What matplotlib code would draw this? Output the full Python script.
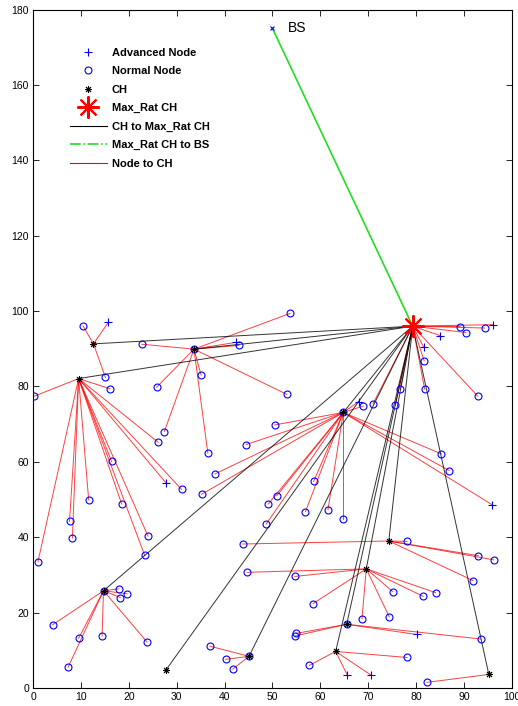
import matplotlib
matplotlib.use("Agg")
import matplotlib.pyplot as plt
from matplotlib.lines import Line2D

plt.rcParams['font.family'] = ['Liberation Sans', 'DejaVu Sans']

# base station and the max-ratio cluster head
bs_x, bs_y = 50.0, 175.0
max_x, max_y = 79.3, 96.0

# ordinary cluster heads
ch_x = [12.6, 9.5, 33.6, 64.8, 14.7, 27.7, 45.1, 69.6, 65.5, 63.2, 74.3, 95.2]
ch_y = [91.3, 82.1, 89.9, 73.1, 25.8, 4.7, 8.4, 31.6, 16.9, 9.7, 39.0, 3.6]
# which cluster heads were elected from normal nodes
ch_normal = [False, False, True, True, True, False, True, False, True, False, False, False]

# normal nodes and the cluster head each one joined (-1 = max-ratio CH)
norm_x = [89.2, 90.4, 94.3, 81.7, 92.9, 81.8, 76.7, 75.7, 71.0,
          10.4, 15.1,
          16.0, 0.2, 26.1, 16.4, 31.0, 11.6, 18.5, 7.6, 8.2, 24.0, 23.3, 1.0,
          22.7, 25.8, 27.4, 35.1, 36.5, 53.7, 43.0, 53.0,
          50.5, 44.5, 38.0, 35.2, 69.0, 58.6, 50.9, 49.1, 48.7, 56.9, 61.6, 64.8, 85.3, 86.9,
          17.9, 19.6, 18.2, 4.1, 9.5, 14.4, 23.8, 7.3,
          36.9, 40.2, 41.7,
          44.7, 54.7, 58.5, 68.7, 75.1, 81.5, 84.1, 74.4,
          55.0, 54.7, 93.5,
          57.7, 78.1,
          43.8, 78.1, 93.0, 96.2, 91.9,
          82.3]
norm_y = [95.9, 94.3, 95.5, 86.8, 77.4, 79.3, 79.3, 75.1, 75.4,
          96.1, 82.4,
          79.4, 77.4, 65.2, 60.1, 52.7, 49.9, 48.8, 44.2, 39.8, 40.3, 35.2, 33.5,
          91.2, 79.8, 68.0, 83.0, 62.3, 99.4, 90.9, 77.9,
          69.8, 64.6, 56.8, 51.4, 74.8, 54.8, 51.0, 48.8, 43.5, 46.8, 47.3, 44.9, 62.1, 57.7,
          26.3, 25.0, 24.0, 16.8, 13.2, 13.8, 12.2, 5.5,
          11.1, 7.6, 5.0,
          30.7, 29.6, 22.4, 18.3, 25.6, 24.3, 25.3, 18.9,
          14.5, 13.8, 13.0,
          6.0, 8.1,
          38.2, 38.9, 35.1, 34.0, 28.5,
          1.5]
norm_ch = [-1] * 9 + [0] * 2 + [1] * 12 + [2] * 8 + [3] * 14 + [4] * 8 + \
          [6] * 3 + [7] * 8 + [8] * 3 + [9] * 2 + [10] * 5 + [11]

# advanced nodes
adv_x = [96.1, 85.0, 81.6, 15.7, 27.7, 42.3, 68.0, 95.9, 80.1, 65.6, 70.6]
adv_y = [96.4, 93.5, 90.4, 97.0, 54.5, 91.7, 76.0, 48.6, 14.2, 3.5, 3.4]
adv_ch = [-1, -1, -1, 0, 1, 2, 3, 3, 8, 9, 9]

asterisk = (8, 2, 0)

fig = plt.figure(figsize=(5.18, 7.06), dpi=100)
ax = fig.add_axes([0.064, 0.0255, 0.924, 0.961])


def head_of(i):
    if i < 0:
        return max_x, max_y
    return ch_x[i], ch_y[i]


# node to CH links
for xs, ys, heads in ((norm_x, norm_y, norm_ch), (adv_x, adv_y, adv_ch)):
    for x, y, h in zip(xs, ys, heads):
        hx, hy = head_of(h)
        ax.plot([x, hx], [y, hy], color='red', lw=0.7, alpha=0.75, zorder=2)

# CH to max-ratio CH links
for x, y in zip(ch_x, ch_y):
    ax.plot([x, max_x], [y, max_y], color='black', lw=0.7, alpha=0.8, zorder=2)

# max-ratio CH to base station
ax.plot([max_x, bs_x], [max_y, bs_y], color='#22dd22', lw=1.2, zorder=2)

ax.plot(norm_x, norm_y, 'o', ms=5, mfc='none', mec='blue', mew=0.8, zorder=3)
ax.plot([x for x, n in zip(ch_x, ch_normal) if n],
        [y for y, n in zip(ch_y, ch_normal) if n],
        'o', ms=5, mfc='none', mec='blue', mew=0.8, zorder=3)
ax.plot(adv_x, adv_y, '+', ms=6, color='blue', mew=0.8, zorder=3)
ax.plot(ch_x, ch_y, ls='none', marker=asterisk, ms=5, color='black', mew=0.7, zorder=4)
ax.plot([max_x], [max_y], ls='none', marker=asterisk, ms=16, color='red', mew=1.5, zorder=4)

ax.plot([bs_x], [bs_y], 'x', ms=3.5, color='blue', mew=0.8, zorder=4)
ax.text(bs_x + 3.2, bs_y, 'BS', fontsize=10, va='center', ha='left')

handles = [
    Line2D([], [], ls='none', marker='+', ms=6, color='blue', mew=0.8),
    Line2D([], [], ls='none', marker='o', ms=5, mfc='none', mec='blue', mew=0.8),
    Line2D([], [], ls='none', marker=asterisk, ms=5, color='black', mew=0.7),
    Line2D([], [], ls='none', marker=asterisk, ms=16, color='red', mew=1.5),
    Line2D([], [], color='black', lw=0.8),
    Line2D([], [], color='#22dd22', lw=1.2, ls='-.'),
    Line2D([], [], color='red', lw=0.8),
]
labels = ['Advanced Node', 'Normal Node', 'CH', 'Max_Rat CH',
          'CH to Max_Rat CH', 'Max_Rat CH to BS', 'Node to CH']
ax.legend(handles, labels, loc='upper left', bbox_to_anchor=(0.061, 0.955),
          frameon=False, prop={'weight': 'bold', 'size': 8},
          handlelength=3.3, handletextpad=0.45, labelspacing=0.76,
          borderpad=0.2)

ax.set_xlim(0, 100)
ax.set_ylim(0, 180)
ax.set_xticks(range(0, 101, 10))
ax.set_yticks(range(0, 181, 20))
ax.tick_params(direction='in', top=True, right=True, length=4, width=0.6,
               labelsize=7.5, pad=3)
for s in ax.spines.values():
    s.set_linewidth(0.8)

fig.savefig('out.png', dpi=100)
